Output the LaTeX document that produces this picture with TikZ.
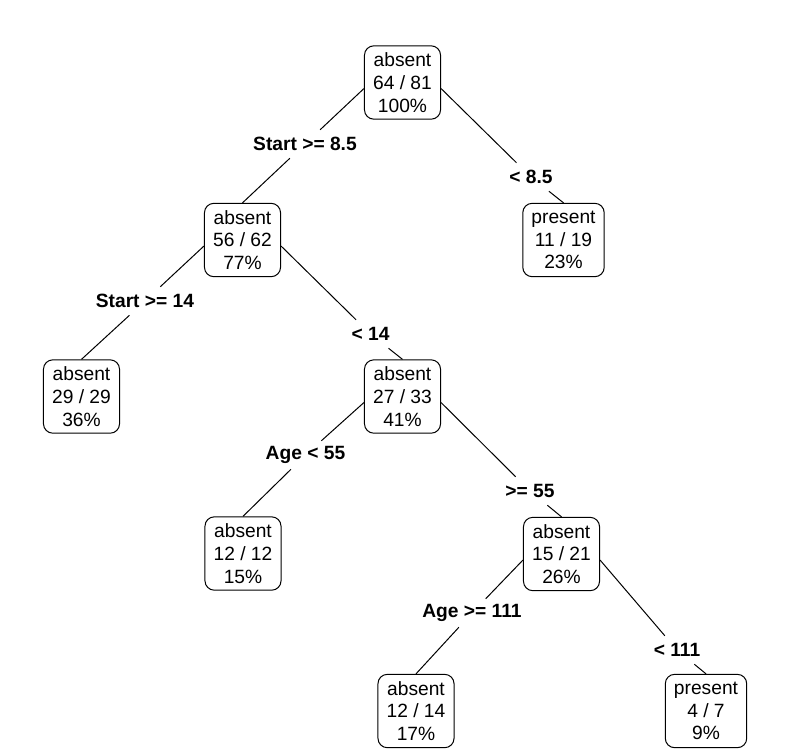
\documentclass[tikz,border=0pt]{standalone}
\usepackage{fontspec}
\setmainfont{Liberation Sans}
\usetikzlibrary{shapes}

\begin{document}
\begin{tikzpicture}[x=0.75pt,y=-0.75pt]
	\tikzstyle{every node}=[font=\fontsize{14.4}{17}\selectfont]
	\tikzstyle{treebox}=[draw,line width=0.75pt,rounded corners=7pt,align=center,minimum width=56pt,minimum height=55pt,inner xsep=6.5pt,inner ysep=2pt]
	\tikzstyle{condlabel}=[font=\fontsize{14.4}{17}\selectfont\bfseries,inner sep=0pt,minimum height=21pt]
	\tikzstyle{edge}=[line width=0.75pt]
	
	\useasboundingbox (0,0) rectangle (792,751);
	
	%%nodes
	\node [treebox] (n1) at (402.5,82.5) {absent\\64 / 81\\100\%};
	\node [treebox] (n2) at (242.5,240.0) {absent\\56 / 62\\77\%};
	\node [treebox] (n3) at (563.5,240.0) {present\\11 / 19\\23\%};
	\node [treebox] (n4) at (81.5,396.5) {absent\\29 / 29\\36\%};
	\node [treebox] (n5) at (402.5,396.5) {absent\\27 / 33\\41\%};
	\node [treebox] (n6) at (243.0,553.5) {absent\\12 / 12\\15\%};
	\node [treebox] (n7) at (561.5,554.0) {absent\\15 / 21\\26\%};
	\node [treebox] (n8) at (416.0,711.0) {absent\\12 / 14\\17\%};
	\node [treebox] (n9) at (706.0,711.0) {present\\4 / 7\\9\%};
	
	%%split labels
	\node [condlabel] (c12) at (305.0,144.0) {Start >= 8.5};
	\node [condlabel] (c13) at (531.0,177.0) {< 8.5};
	\node [condlabel] (c24) at (145.0,301.0) {Start >= 14};
	\node [condlabel] (c25) at (370.5,334.0) {< 14};
	\node [condlabel] (c56) at (305.5,455.0) {Age < 55};
	\node [condlabel] (c57) at (530.0,491.0) {>= 55};
	\node [condlabel] (c78) at (472.0,613.0) {Age >= 111};
	\node [condlabel] (c79) at (677.0,650.0) {< 111};
	
	%%edges
	\draw [edge] ([yshift=-4.5pt]n1.west) -- (c12) -- (n2.north);
	\draw [edge] ([yshift=-4.5pt]n1.east) -- (c13) -- (n3.north);
	\draw [edge] ([yshift=-4.5pt]n2.west) -- (c24) -- (n4.north);
	\draw [edge] ([yshift=-4.5pt]n2.east) -- (c25) -- (n5.north);
	\draw [edge] ([yshift=-4.5pt]n5.west) -- (c56) -- (n6.north);
	\draw [edge] ([yshift=-4.5pt]n5.east) -- (c57) -- (n7.north);
	\draw [edge] ([yshift=-4.5pt]n7.west) -- (c78) -- (n8.north);
	\draw [edge] ([yshift=-4.5pt]n7.east) -- (c79) -- (n9.north);

\end{tikzpicture}
\end{document}
